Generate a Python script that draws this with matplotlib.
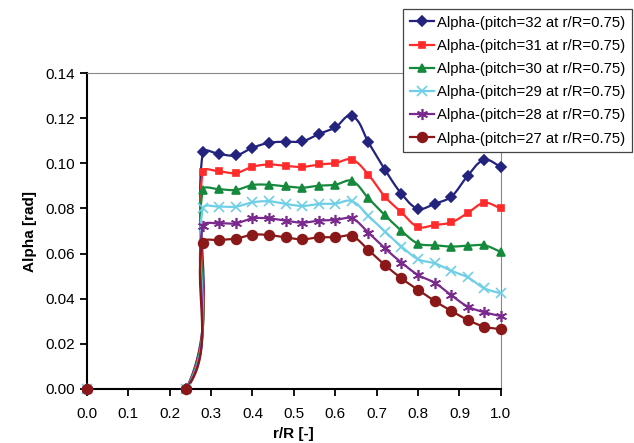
import numpy as np
import matplotlib.pyplot as plt
from matplotlib.lines import Line2D

plt.rcParams['font.family'] = ['Liberation Sans', 'DejaVu Sans']

r_R = [0.0, 0.24, 0.28, 0.32, 0.36, 0.40, 0.44, 0.48, 0.52, 0.56, 0.60,
       0.64, 0.68, 0.72, 0.76, 0.80, 0.84, 0.88, 0.92, 0.96, 1.00]

alpha_32 = [0.0, 0.0, 0.1049, 0.1041, 0.1035, 0.1069, 0.1091, 0.1096, 0.1097, 0.1130, 0.1159,
            0.1210, 0.1093, 0.0972, 0.0865, 0.0799, 0.0821, 0.0852, 0.0945, 0.1015, 0.0984]
alpha_31 = [0.0, 0.0, 0.0963, 0.0964, 0.0957, 0.0985, 0.0995, 0.0989, 0.0984, 0.0995, 0.1001,
            0.1017, 0.0950, 0.0852, 0.0783, 0.0718, 0.0727, 0.0738, 0.0780, 0.0825, 0.0800]
alpha_30 = [0.0, 0.0, 0.0882, 0.0885, 0.0882, 0.0904, 0.0905, 0.0898, 0.0892, 0.0901, 0.0905,
            0.0922, 0.0845, 0.0770, 0.0701, 0.0644, 0.0637, 0.0631, 0.0635, 0.0637, 0.0607]
alpha_29 = [0.0, 0.0, 0.0800, 0.0808, 0.0808, 0.0827, 0.0832, 0.0820, 0.0811, 0.0820, 0.0821,
            0.0833, 0.0767, 0.0697, 0.0631, 0.0575, 0.0557, 0.0524, 0.0495, 0.0446, 0.0424]
alpha_28 = [0.0, 0.0, 0.0722, 0.0734, 0.0734, 0.0756, 0.0756, 0.0746, 0.0737, 0.0746, 0.0749,
            0.0756, 0.0693, 0.0623, 0.0560, 0.0505, 0.0471, 0.0416, 0.0365, 0.0340, 0.0323]
alpha_27 = [0.0, 0.0, 0.0648, 0.0660, 0.0666, 0.0684, 0.0682, 0.0672, 0.0663, 0.0672, 0.0672,
            0.0678, 0.0616, 0.0549, 0.0490, 0.0439, 0.0390, 0.0346, 0.0306, 0.0276, 0.0265]

labels = ["Alpha-(pitch=32 at r/R=0.75)", "Alpha-(pitch=31 at r/R=0.75)",
          "Alpha-(pitch=30 at r/R=0.75)", "Alpha-(pitch=29 at r/R=0.75)",
          "Alpha-(pitch=28 at r/R=0.75)", "Alpha-(pitch=27 at r/R=0.75)"]
series = [alpha_32, alpha_31, alpha_30, alpha_29, alpha_28, alpha_27]
colors = ["#23237e", "#ff2a2a", "#168a3c", "#6fcfe6", "#7a2a8c", "#8a1818"]
markers = ["D", "s", "^", "x", (6, 2, 0), "o"]
msizes = [5, 5, 6, 7, 8, 7]

# axes placement (figure fractions)
ax_box = [0.137, 0.122, 0.653, 0.713]
xr, yr = 1.0, 0.14
kx = ax_box[2] * 634 / xr
ky = ax_box[3] * 443 / yr


def smooth(x, y, n=30):
    # excel-like smoothed line, done in pixel space
    p = np.column_stack([np.array(x) * kx, np.array(y) * ky])
    pts = np.vstack([p[0], p, p[-1]])
    out = []
    t = np.linspace(0, 1, n)[:, None]
    for i in range(1, len(pts) - 2):
        p0, p1 = pts[i], pts[i + 1]
        L = np.linalg.norm(p1 - p0)
        d0 = pts[i + 1] - pts[i - 1]
        d1 = pts[i + 2] - pts[i]
        d0 = d0 / (np.linalg.norm(d0) or 1)
        d1 = d1 / (np.linalg.norm(d1) or 1)
        c1 = p0 + d0 * L / 3
        c2 = p1 - d1 * L / 3
        seg = ((1 - t) ** 3 * p0 + 3 * (1 - t) ** 2 * t * c1
               + 3 * (1 - t) * t ** 2 * c2 + t ** 3 * p1)
        out.append(seg)
    out = np.vstack(out)
    return out[:, 0] / kx, out[:, 1] / ky


fig = plt.figure(figsize=(6.34, 4.43), dpi=100)
ax = fig.add_axes(ax_box)

handles = []
for vals, lab, c, m, ms in zip(series, labels, colors, markers, msizes):
    sx, sy = smooth(r_R, vals)
    ax.plot(sx, sy, color=c, lw=1.6)
    ax.plot(r_R, vals, ls="none", marker=m, ms=ms, color=c, mec=c,
            mew=1.2, clip_on=False, zorder=3)
    handles.append(Line2D([], [], color=c, lw=1.6, marker=m, ms=ms, mec=c, mew=1.2))

ax.set_xlim(0, xr)
ax.set_ylim(0, yr)
ax.set_xticks(np.arange(0, 1.01, 0.1))
ax.set_yticks(np.arange(0, 0.141, 0.02))
ax.xaxis.set_major_formatter(plt.FormatStrFormatter("%.1f"))
ax.yaxis.set_major_formatter(plt.FormatStrFormatter("%.2f"))
ax.tick_params(direction="out", length=5, width=1.3, labelsize=11, color="black")
ax.tick_params(axis="x", pad=8)

for s in ["left", "bottom"]:
    ax.spines[s].set_linewidth(1.5)
    ax.spines[s].set_color("black")
for s in ["top", "right"]:
    ax.spines[s].set_linewidth(0.8)
    ax.spines[s].set_color("#888888")

ax.set_xlabel("r/R [-]", fontsize=11, fontweight="bold", labelpad=4)
ax.set_ylabel("Alpha [rad]", fontsize=11, fontweight="bold", labelpad=6)

leg = fig.legend(handles, labels, loc="upper left", bbox_to_anchor=(0.636, 0.98),
                 borderaxespad=0, fontsize=10.7, handlelength=1.6, handletextpad=0.2,
                 labelspacing=0.62, borderpad=0.45, fancybox=False,
                 framealpha=1, edgecolor="#444444")
leg.get_frame().set_linewidth(0.9)

plt.savefig("out.png", dpi=100)
